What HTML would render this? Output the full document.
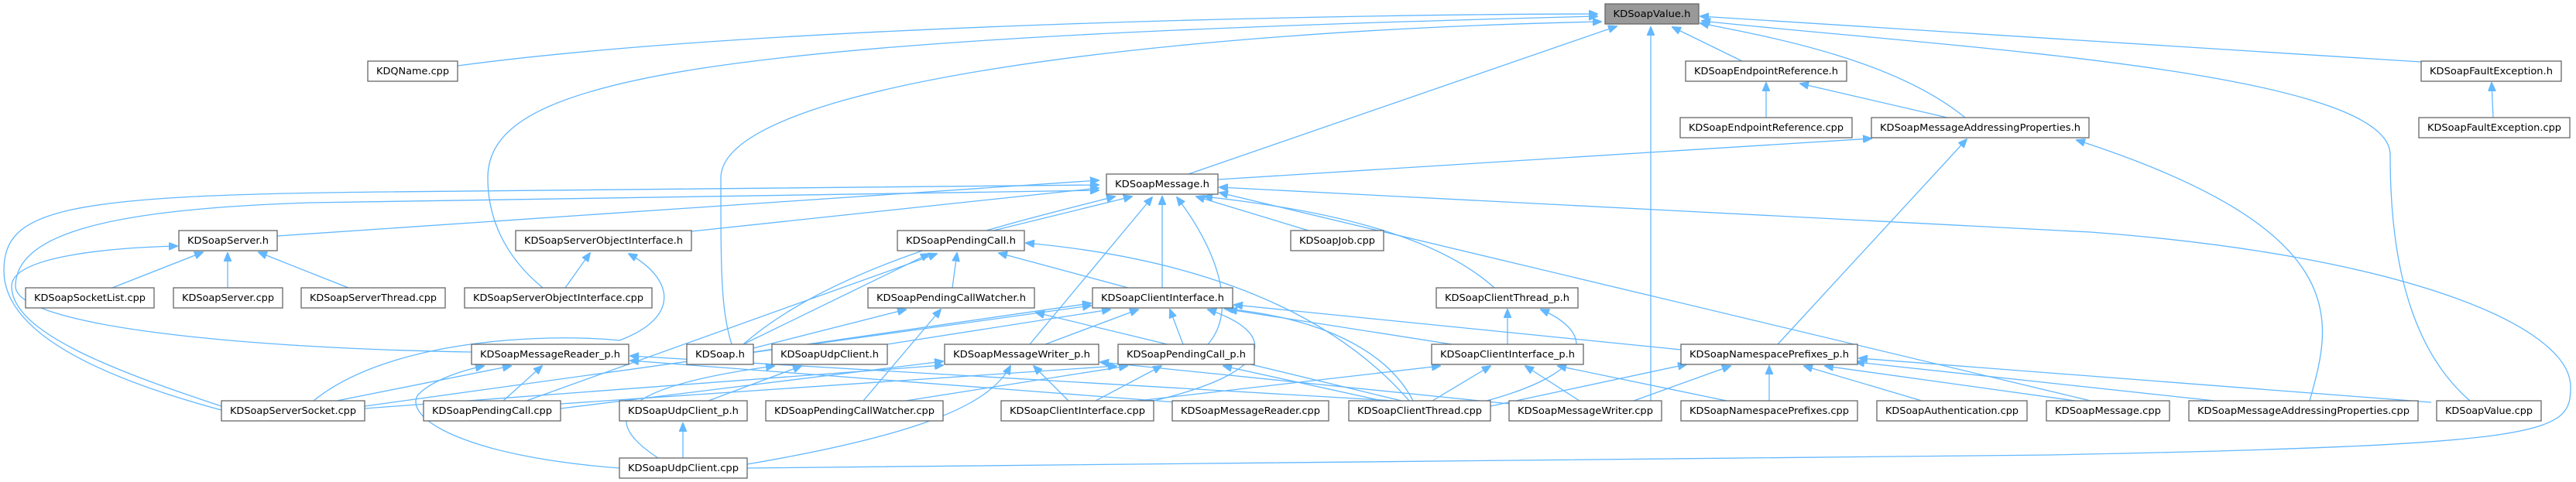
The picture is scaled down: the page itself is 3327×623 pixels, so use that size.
<!DOCTYPE html>
<html><head><meta charset="utf-8">
<style>
html,body{margin:0;padding:0;background:#fff;width:3327px;height:623px;overflow:hidden}
svg{display:block}
.n rect{fill:#fff;stroke:#666;stroke-width:1.3}
.n line{stroke:#999;stroke-width:2}
.g rect{fill:#999;stroke:#666;stroke-width:1.3}
text{font-family:"DejaVu Sans","Liberation Sans",sans-serif;font-size:12px;fill:#000}
path{fill:none;stroke:#63b8ff;stroke-width:1.3}
</style></head><body>
<svg width="3327" height="623" viewBox="0 0 3327 623" xmlns="http://www.w3.org/2000/svg">
<defs>
<marker id="a" markerWidth="12" markerHeight="10" refX="11" refY="5" orient="auto" markerUnits="userSpaceOnUse">
<path d="M0,0 L12,5 L0,10 Z" style="fill:#63b8ff;stroke:#63b8ff;stroke-width:1"/>
</marker>
</defs>
<g marker-end="url(#a)">
<path d="M591,85 C1000,30 1800,18 2063,18"/>
<path d="M1535,225 L2088,34"/>
<path d="M2250,79 L2160,35"/>
<path d="M2538,152 C2450,80 2300,50 2196,30"/>
<path d="M3127,80 L2196,21"/>
<path d="M3190,518 C3100,440 3087,300 3087,200 C3087,90 2500,60 2198,27"/>
<path d="M2132,518 L2132,35"/>
<path d="M701,372 C650,330 630,280 630,230 C630,100 900,50 2063,21"/>
<path d="M945,445 C931,400 931,350 931,230 C931,110 1500,40 2068,28"/>
<path d="M2281,152 L2281,107"/>
<path d="M2515,152 L2325,108"/>
<path d="M3220,152 L3218,107"/>
<path d="M1573,232 L2417,179"/>
<path d="M2983,518 C3010,420 3050,300 2682,181"/>
<path d="M2296,445 L2540,180"/>
<path d="M358,305 L1419,233"/>
<path d="M893,299 L1419,243"/>
<path d="M1283,298 L1462,254"/>
<path d="M1501,372 L1501,254"/>
<path d="M1930,372 C1850,300 1700,270 1555,254"/>
<path d="M1690,298 L1545,254"/>
<path d="M609,455 C300,450 20,420 20,370 C20,300 150,270 400,262 L1419,246"/>
<path d="M286,530 C100,480 5,420 5,350 C5,270 80,252 500,248 L1419,239"/>
<path d="M960,445 C1080,340 1300,290 1440,254"/>
<path d="M1330,445 L1488,255"/>
<path d="M1560,445 C1600,400 1570,320 1520,255"/>
<path d="M2700,518 L1575,249"/>
<path d="M965,605 L2650,588 C3300,575 3320,560 3320,500 C3320,420 3100,330 2700,300 L1575,242"/>
<path d="M145,372 L262,326"/>
<path d="M294,372 L294,327"/>
<path d="M450,372 L334,326"/>
<path d="M286,525 C150,480 15,430 15,370 C15,330 150,320 229,318"/>
<path d="M730,372 L762,327"/>
<path d="M405,518 C500,440 700,430 800,440 C880,410 870,360 812,328"/>
<path d="M1230,372 L1236,327"/>
<path d="M1457,372 L1290,327"/>
<path d="M960,445 L1200,328"/>
<path d="M680,518 L1210,328"/>
<path d="M1820,518 C1700,380 1500,330 1325,314"/>
<path d="M1115,518 L1215,400"/>
<path d="M973,450 L1170,400"/>
<path d="M1810,518 L1338,404"/>
<path d="M973,455 L1409,392"/>
<path d="M1146,445 L1434,400"/>
<path d="M1350,445 L1470,400"/>
<path d="M1528,445 L1511,400"/>
<path d="M1875,445 L1587,400"/>
<path d="M1490,518 C1650,480 1650,430 1560,400"/>
<path d="M1825,518 C1790,450 1700,410 1582,399"/>
<path d="M2171,452 L1594,394"/>
<path d="M471,525 L1409,395"/>
<path d="M1947,445 L1947,400"/>
<path d="M1920,518 C2060,480 2060,430 1990,400"/>
<path d="M435,518 L660,473"/>
<path d="M650,518 L700,473"/>
<path d="M800,605 C600,590 520,540 540,510 C560,490 600,478 625,473"/>
<path d="M1800,518 L814,460"/>
<path d="M1520,520 L814,466"/>
<path d="M915,518 L1035,473"/>
<path d="M850,592 C770,540 800,500 1000,473"/>
<path d="M1380,518 L1335,473"/>
<path d="M471,528 L1218,472"/>
<path d="M965,600 C1200,560 1280,520 1305,473"/>
<path d="M1950,522 L1421,468"/>
<path d="M724,528 L1218,467"/>
<path d="M1415,518 L1500,473"/>
<path d="M1785,518 L1580,473"/>
<path d="M724,522 L1442,473"/>
<path d="M1170,518 L1456,473"/>
<path d="M1470,518 L1860,473"/>
<path d="M1850,518 L1925,473"/>
<path d="M2040,518 L1970,473"/>
<path d="M2230,518 L2012,473"/>
<path d="M2110,518 L2235,473"/>
<path d="M2285,518 L2285,473"/>
<path d="M2482,518 L2330,473"/>
<path d="M2680,518 L2357,473"/>
<path d="M2860,518 L2397,468"/>
<path d="M3140,520 L2401,463"/>
<path d="M1925,525 L2178,471"/>
<path d="M882,592 L882,547"/>
</g>
<g class="g"><rect x="2073" y="5" width="121" height="26"/><text x="2133.5" y="22" text-anchor="middle" textLength="100" lengthAdjust="spacingAndGlyphs">KDSoapValue.h</text></g>
<g class="n">
<rect x="475" y="79" width="116" height="26"/><text x="533" y="96" text-anchor="middle" textLength="94" lengthAdjust="spacingAndGlyphs">KDQName.cpp</text>
<rect x="2177" y="79" width="208" height="26"/><text x="2281" y="96" text-anchor="middle" textLength="186" lengthAdjust="spacingAndGlyphs">KDSoapEndpointReference.h</text>
<rect x="3127" y="79" width="181" height="26"/><text x="3217.5" y="96" text-anchor="middle" textLength="159" lengthAdjust="spacingAndGlyphs">KDSoapFaultException.h</text>
<rect x="2170" y="152" width="222" height="26"/><text x="2281" y="169" text-anchor="middle" textLength="200" lengthAdjust="spacingAndGlyphs">KDSoapEndpointReference.cpp</text>
<rect x="2417" y="152" width="281" height="26"/><text x="2557.5" y="169" text-anchor="middle" textLength="259" lengthAdjust="spacingAndGlyphs">KDSoapMessageAddressingProperties.h</text>
<rect x="3124" y="152" width="195" height="26"/><text x="3221.5" y="169" text-anchor="middle" textLength="173" lengthAdjust="spacingAndGlyphs">KDSoapFaultException.cpp</text>
<rect x="1429" y="225" width="144" height="26"/><text x="1501" y="242" text-anchor="middle" textLength="122" lengthAdjust="spacingAndGlyphs">KDSoapMessage.h</text>
<rect x="231" y="298" width="127" height="26"/><text x="294.5" y="315" text-anchor="middle" textLength="105" lengthAdjust="spacingAndGlyphs">KDSoapServer.h</text>
<rect x="666" y="298" width="227" height="26"/><text x="779.5" y="315" text-anchor="middle" textLength="205" lengthAdjust="spacingAndGlyphs">KDSoapServerObjectInterface.h</text>
<rect x="1159" y="298" width="164" height="26"/><text x="1241" y="315" text-anchor="middle" textLength="142" lengthAdjust="spacingAndGlyphs">KDSoapPendingCall.h</text>
<rect x="1667" y="298" width="120" height="26"/><text x="1727" y="315" text-anchor="middle" textLength="98" lengthAdjust="spacingAndGlyphs">KDSoapJob.cpp</text>
<rect x="33" y="372" width="166" height="26"/><text x="116" y="389" text-anchor="middle" textLength="144" lengthAdjust="spacingAndGlyphs">KDSoapSocketList.cpp</text>
<rect x="224" y="372" width="141" height="26"/><text x="294.5" y="389" text-anchor="middle" textLength="119" lengthAdjust="spacingAndGlyphs">KDSoapServer.cpp</text>
<rect x="389" y="372" width="186" height="26"/><text x="482" y="389" text-anchor="middle" textLength="164" lengthAdjust="spacingAndGlyphs">KDSoapServerThread.cpp</text>
<rect x="600" y="372" width="242" height="26"/><text x="721" y="389" text-anchor="middle" textLength="220" lengthAdjust="spacingAndGlyphs">KDSoapServerObjectInterface.cpp</text>
<rect x="1121" y="372" width="215" height="26"/><text x="1228.5" y="389" text-anchor="middle" textLength="193" lengthAdjust="spacingAndGlyphs">KDSoapPendingCallWatcher.h</text>
<rect x="1411" y="372" width="181" height="26"/><text x="1501.5" y="389" text-anchor="middle" textLength="159" lengthAdjust="spacingAndGlyphs">KDSoapClientInterface.h</text>
<rect x="1855" y="372" width="183" height="26"/><text x="1946.5" y="389" text-anchor="middle" textLength="161" lengthAdjust="spacingAndGlyphs">KDSoapClientThread_p.h</text>
<rect x="609" y="445" width="203" height="26"/><text x="710.5" y="462" text-anchor="middle" textLength="181" lengthAdjust="spacingAndGlyphs">KDSoapMessageReader_p.h</text>
<rect x="887" y="445" width="86" height="26"/><text x="930" y="462" text-anchor="middle" textLength="64" lengthAdjust="spacingAndGlyphs">KDSoap.h</text>
<rect x="997" y="445" width="149" height="26"/><text x="1071.5" y="462" text-anchor="middle" textLength="127" lengthAdjust="spacingAndGlyphs">KDSoapUdpClient.h</text>
<rect x="1220" y="445" width="199" height="26"/><text x="1319.5" y="462" text-anchor="middle" textLength="177" lengthAdjust="spacingAndGlyphs">KDSoapMessageWriter_p.h</text>
<rect x="1444" y="445" width="176" height="26"/><text x="1532" y="462" text-anchor="middle" textLength="154" lengthAdjust="spacingAndGlyphs">KDSoapPendingCall_p.h</text>
<rect x="1849" y="445" width="196" height="26"/><text x="1947" y="462" text-anchor="middle" textLength="174" lengthAdjust="spacingAndGlyphs">KDSoapClientInterface_p.h</text>
<rect x="2171" y="445" width="228" height="26"/><text x="2285" y="462" text-anchor="middle" textLength="206" lengthAdjust="spacingAndGlyphs">KDSoapNamespacePrefixes_p.h</text>
<rect x="286" y="518" width="185" height="26"/><text x="378.5" y="535" text-anchor="middle" textLength="163" lengthAdjust="spacingAndGlyphs">KDSoapServerSocket.cpp</text>
<rect x="547" y="518" width="177" height="26"/><text x="635.5" y="535" text-anchor="middle" textLength="155" lengthAdjust="spacingAndGlyphs">KDSoapPendingCall.cpp</text>
<rect x="800" y="518" width="165" height="26"/><text x="882.5" y="535" text-anchor="middle" textLength="143" lengthAdjust="spacingAndGlyphs">KDSoapUdpClient_p.h</text>
<rect x="989" y="518" width="229" height="26"/><text x="1103.5" y="535" text-anchor="middle" textLength="207" lengthAdjust="spacingAndGlyphs">KDSoapPendingCallWatcher.cpp</text>
<rect x="1293" y="518" width="197" height="26"/><text x="1391.5" y="535" text-anchor="middle" textLength="175" lengthAdjust="spacingAndGlyphs">KDSoapClientInterface.cpp</text>
<rect x="1514" y="518" width="202" height="26"/><text x="1615" y="535" text-anchor="middle" textLength="180" lengthAdjust="spacingAndGlyphs">KDSoapMessageReader.cpp</text>
<rect x="1742" y="518" width="183" height="26"/><text x="1833.5" y="535" text-anchor="middle" textLength="161" lengthAdjust="spacingAndGlyphs">KDSoapClientThread.cpp</text>
<rect x="1949" y="518" width="197" height="26"/><text x="2047.5" y="535" text-anchor="middle" textLength="175" lengthAdjust="spacingAndGlyphs">KDSoapMessageWriter.cpp</text>
<rect x="2171" y="518" width="228" height="26"/><text x="2285" y="535" text-anchor="middle" textLength="206" lengthAdjust="spacingAndGlyphs">KDSoapNamespacePrefixes.cpp</text>
<rect x="2424" y="518" width="194" height="26"/><text x="2521" y="535" text-anchor="middle" textLength="172" lengthAdjust="spacingAndGlyphs">KDSoapAuthentication.cpp</text>
<rect x="2643" y="518" width="159" height="26"/><text x="2722.5" y="535" text-anchor="middle" textLength="137" lengthAdjust="spacingAndGlyphs">KDSoapMessage.cpp</text>
<rect x="2827" y="518" width="296" height="26"/><text x="2975" y="535" text-anchor="middle" textLength="274" lengthAdjust="spacingAndGlyphs">KDSoapMessageAddressingProperties.cpp</text>
<rect x="3147" y="518" width="135" height="26"/><text x="3214.5" y="535" text-anchor="middle" textLength="113" lengthAdjust="spacingAndGlyphs">KDSoapValue.cpp</text>
<rect x="800" y="592" width="165" height="26"/><text x="882.5" y="609" text-anchor="middle" textLength="143" lengthAdjust="spacingAndGlyphs">KDSoapUdpClient.cpp</text>
</g>
</svg>
</body></html>
